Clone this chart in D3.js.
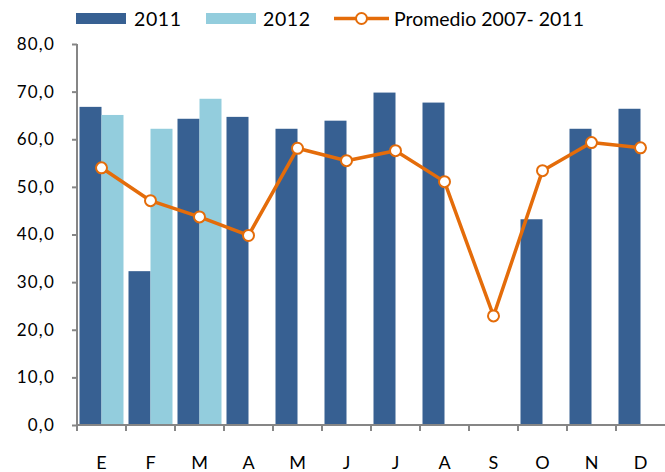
<!DOCTYPE html>
<html>
<head>
<meta charset="utf-8">
<script src="https://cdn.jsdelivr.net/npm/d3@7"></script>
<style>
  body { margin: 0; background: #fff; }
  text { font-family: Lato, "Open Sans", sans-serif; fill: #000; }
</style>
</head>
<body>
<div id="chart"></div>
<script>
var w = 665, h = 472;

// data
var months = ["E", "F", "M", "A", "M", "J", "J", "A", "S", "O", "N", "D"];
var values2011 = [66.8, 32.3, 64.3, 64.7, 62.2, 63.9, 69.8, 67.7, null, 43.2, 62.2, 66.4];
var values2012 = [65.1, 62.2, 68.5, null, null, null, null, null, null, null, null, null];
var promedio = [54.0, 47.1, 43.7, 39.8, 58.1, 55.5, 57.6, 51.1, 22.9, 53.4, 59.3, 58.2];
var yTicks = [0, 10, 20, 30, 40, 50, 60, 70, 80];

var cDark = "#376092", cLight = "#93cddd", cLine = "#e46c0a", cAxis = "#868686";

var plotLeft = 77, plotRight = 665, plotTop = 44, plotBottom = 425;

var svg = d3.select("#chart").append("svg").attr("width", w).attr("height", h);

var keys = months.map(function(m, i) { return i; });
var x = d3.scaleBand().domain(keys).range([plotLeft, plotRight]).paddingInner(0).paddingOuter(0);
var inner = d3.scaleBand().domain(["a", "b"]).range([2.5, x.bandwidth() - 2.5]);
var y = d3.scaleLinear().domain([0, 80]).range([plotBottom, plotTop]);

/*
 * bars
 */
var series = [
  { key: "a", vals: values2011, color: cDark },
  { key: "b", vals: values2012, color: cLight }
];
series.forEach(function(s) {
  svg.append("g").selectAll("rect")
    .data(s.vals.map(function(v, i) { return { i: i, v: v }; }).filter(function(d) { return d.v != null; }))
    .enter().append("rect")
    .attr("x", function(d) { return x(d.i) + inner(s.key); })
    .attr("width", inner.bandwidth())
    .attr("y", function(d) { return y(d.v); })
    .attr("height", function(d) { return y(0) - y(d.v); })
    .attr("fill", s.color);
});

/*
 * axes
 */
var yAxis = d3.axisLeft(y).tickValues(yTicks).tickSize(5).tickPadding(17)
  .tickFormat(function(d) { return d3.format(".1f")(d).replace(".", ","); });
var gy = svg.append("g").attr("transform", "translate(" + plotLeft + ",0)").call(yAxis);
gy.select(".domain").attr("stroke", cAxis).attr("stroke-width", 2).attr("d", "M0," + plotTop + "V" + plotBottom);
gy.selectAll(".tick line").attr("stroke", cAxis).attr("stroke-width", 2);
gy.selectAll(".tick text").attr("font-size", 17).attr("font-family", "Lato")
  .attr("letter-spacing", 1.2).attr("fill", "#000");

var gx = svg.append("g").attr("transform", "translate(0," + plotBottom + ")");
gx.append("line").attr("x1", plotLeft).attr("x2", plotRight).attr("stroke", cAxis).attr("stroke-width", 2);
gx.selectAll(".tk").data(keys).enter().append("line")
  .attr("x1", function(d) { return x(d); }).attr("x2", function(d) { return x(d); })
  .attr("y1", 0).attr("y2", 6).attr("stroke", cAxis).attr("stroke-width", 2);
gx.selectAll(".lbl").data(keys).enter().append("text")
  .attr("x", function(d) { return x(d) + x.bandwidth() / 2; })
  .attr("y", 44).attr("text-anchor", "middle").attr("font-size", 18)
  .text(function(d) { return months[d]; });

/*
 * line
 */
var line = d3.line()
  .x(function(d, i) { return x(i) + x.bandwidth() / 2; })
  .y(function(d) { return y(d); });
svg.append("path").datum(promedio).attr("d", line)
  .attr("fill", "none").attr("stroke", cLine).attr("stroke-width", 3.5).attr("stroke-linejoin", "round");
svg.append("g").selectAll("circle").data(promedio).enter().append("circle")
  .attr("cx", function(d, i) { return x(i) + x.bandwidth() / 2; })
  .attr("cy", function(d) { return y(d); })
  .attr("r", 5.5).attr("fill", "#fff").attr("stroke", cLine).attr("stroke-width", 2);

/*
 * legend
 */
var lg = svg.append("g").attr("font-size", 19.5);
lg.append("rect").attr("x", 76).attr("y", 13).attr("width", 50).attr("height", 11).attr("fill", cDark);
lg.append("text").attr("x", 134).attr("y", 26).attr("letter-spacing", 0.6).text("2011");
lg.append("rect").attr("x", 206).attr("y", 13).attr("width", 50).attr("height", 11).attr("fill", cLight);
lg.append("text").attr("x", 263).attr("y", 26).attr("letter-spacing", 0.6).text("2012");
lg.append("line").attr("x1", 334).attr("x2", 389).attr("y1", 18.5).attr("y2", 18.5)
  .attr("stroke", cLine).attr("stroke-width", 3.5);
lg.append("circle").attr("cx", 361.5).attr("cy", 18.5).attr("r", 5.5)
  .attr("fill", "#fff").attr("stroke", cLine).attr("stroke-width", 2);
lg.append("text").attr("x", 394).attr("y", 26).text("Promedio 2007- 2011");
</script>
</body>
</html>
